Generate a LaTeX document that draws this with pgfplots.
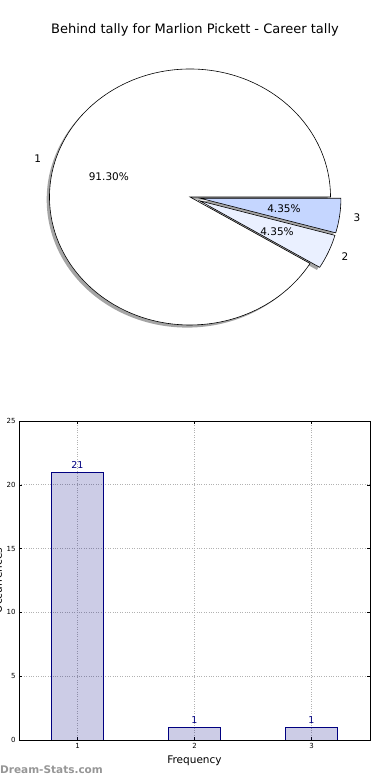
\documentclass[border=0pt]{standalone}
\usepackage{pgfplots}
\pgfplotsset{compat=1.18}
\usepackage{pgfplotstable}
\usepackage{fontspec}
\setmainfont{DejaVu Sans}
\usetikzlibrary{calc}
\pgfkeys{/pgf/number format/assume math mode=true}
\definecolor{sliceB}{RGB}{234,240,255}
\definecolor{sliceC}{RGB}{197,214,255}
\definecolor{barnavy}{RGB}{0,0,128}
\definecolor{wm}{RGB}{150,150,150}

\pgfplotstableread{
slice value explode
1 21 0
2 1 0.075
3 1 0.075
}\piedata
\pgfplotstableread{
freq count
1 21
2 1
3 1
}\bardata

\def\cx{190}\def\cy{583}\def\rx{140.5}\def\ry{128}
\newcommand\piefont{\fontsize{10.5}{12}\selectfont}

% start, end, explode, style, dx, dy
\newcommand\slicepath[6]{%
  \pgfmathsetmacro\mA{(#1+#2)/2}%
  \pgfmathsetmacro\px{\cx+#3*\rx*cos(\mA)+#5}%
  \pgfmathsetmacro\py{\cy+#3*\ry*sin(\mA)+#6}%
  \path[#4] (axis cs:\px,\py) -- ++(#1:\rx pt and \ry pt)
     arc[start angle=#1,end angle=#2,x radius=\rx pt,y radius=\ry pt] -- cycle;
}
% start, end, explode, label, pct, anchor
\newcommand\slicelabel[6]{%
  \pgfmathsetmacro\mA{(#1+#2)/2}%
  \pgfmathsetmacro\ox{\cx+#3*\rx*cos(\mA)}%
  \pgfmathsetmacro\oy{\cy+#3*\ry*sin(\mA)}%
  \pgfmathsetmacro\lx{\ox+1.1*\rx*cos(\mA)}%
  \pgfmathsetmacro\ly{\oy+1.1*\ry*sin(\mA)}%
  \pgfmathsetmacro\qx{\ox+0.6*\rx*cos(\mA)}%
  \pgfmathsetmacro\qy{\oy+0.6*\ry*sin(\mA)}%
  \node[anchor=#6,font=\piefont,inner sep=0pt] at (axis cs:\lx,\ly) {#4};
  \node[font=\piefont,inner sep=0pt] at (axis cs:\qx,\qy) {#5};
}

\begin{document}
\begin{tikzpicture}
\useasboundingbox (0pt,0pt) rectangle (390pt,780pt);
\clip (0pt,0pt) rectangle (390pt,780pt);

\pgfplotstablegetelem{0}{value}\of\piedata\pgfmathsetmacro\vA{\pgfplotsretval}
\pgfplotstablegetelem{1}{value}\of\piedata\pgfmathsetmacro\vB{\pgfplotsretval}
\pgfplotstablegetelem{2}{value}\of\piedata\pgfmathsetmacro\vC{\pgfplotsretval}
\pgfplotstablegetelem{0}{explode}\of\piedata\pgfmathsetmacro\xA{\pgfplotsretval}
\pgfplotstablegetelem{1}{explode}\of\piedata\pgfmathsetmacro\xB{\pgfplotsretval}
\pgfplotstablegetelem{2}{explode}\of\piedata\pgfmathsetmacro\xC{\pgfplotsretval}
\pgfmathsetmacro\tot{\vA+\vB+\vC}
\pgfmathsetmacro\eA{360*\vA/\tot}
\pgfmathsetmacro\eB{\eA+360*\vB/\tot}
\pgfmathsetmacro\eC{\eB+360*\vC/\tot}
\pgfmathsetmacro\pA{100*\vA/\tot}
\pgfmathsetmacro\pB{100*\vB/\tot}
\pgfmathsetmacro\pC{100*\vC/\tot}

\begin{axis}[at={(0pt,0pt)}, anchor=south west, scale only axis,
  width=390pt, height=780pt, xmin=0, xmax=390, ymin=0, ymax=780,
  hide axis, clip=false]
  \pgfplotsextra{%
  \slicepath{0}{\eA}{\xA}{fill=black!70,fill opacity=0.5,draw=none}{-2.8}{-2.6}%
  \slicepath{\eA}{\eB}{\xB}{fill=black!70,fill opacity=0.5,draw=none}{-2.8}{-2.6}%
  \slicepath{\eB}{\eC}{\xC}{fill=black!70,fill opacity=0.5,draw=none}{-2.8}{-2.6}%
  \slicepath{0}{\eA}{\xA}{fill=white,draw=black,line width=0.6pt}{0}{0}%
  \slicepath{\eA}{\eB}{\xB}{fill=sliceB,draw=black,line width=0.6pt}{0}{0}%
  \slicepath{\eB}{\eC}{\xC}{fill=sliceC,draw=black,line width=0.6pt}{0}{0}%
  \slicelabel{0}{\eA}{\xA}{1}{\pgfmathprintnumber[fixed,fixed zerofill,precision=2]{\pA}\%}{east}%
  \slicelabel{\eA}{\eB}{\xB}{2}{\pgfmathprintnumber[fixed,fixed zerofill,precision=2]{\pB}\%}{west}%
  \slicelabel{\eB}{\eC}{\xC}{3}{\pgfmathprintnumber[fixed,fixed zerofill,precision=2]{\pC}\%}{west}%
  }
  \node[font=\fontsize{13}{15}\selectfont] at (axis cs:195,750) {Behind tally for Marlion Pickett - Career tally};
\end{axis}

\begin{axis}[at={(19pt,40pt)}, anchor=south west, scale only axis,
  width=351pt, height=319pt,
  xmin=0.5, xmax=3.5, ymin=0, ymax=25,
  xtick={1,2,3}, ytick={0,5,10,15,20,25},
  grid=major, major grid style={gray!60, dotted, line width=0.7pt},
  axis line style={black, line width=0.8pt},
  tick align=inside, major tick length=3pt, tick style={black, line width=0.5pt},
  ticklabel style={font=\fontsize{7}{8}\selectfont},
  xlabel={Frequency}, xlabel style={font=\fontsize{10.5}{12}\selectfont},
  ylabel={Occurrences},
  every axis y label/.style={at={(axis description cs:-0.06,0.5)}, rotate=90, anchor=center, font=\fontsize{10.5}{12}\selectfont},
  nodes near coords,
  nodes near coords style={font=\fontsize{9.5}{11}\selectfont, text=barnavy, text opacity=1},
]
\addplot[ybar, bar width=0.44, fill=barnavy, fill opacity=0.2, draw=barnavy, draw opacity=1, line width=0.8pt]
  table[x=freq, y=count]{\bardata};
\end{axis}

\node[anchor=west, inner sep=0pt, text=wm, font=\bfseries\fontsize{10.5}{12}\selectfont] at (0pt,10pt) {Dream-Stats.com};
\end{tikzpicture}
\end{document}
